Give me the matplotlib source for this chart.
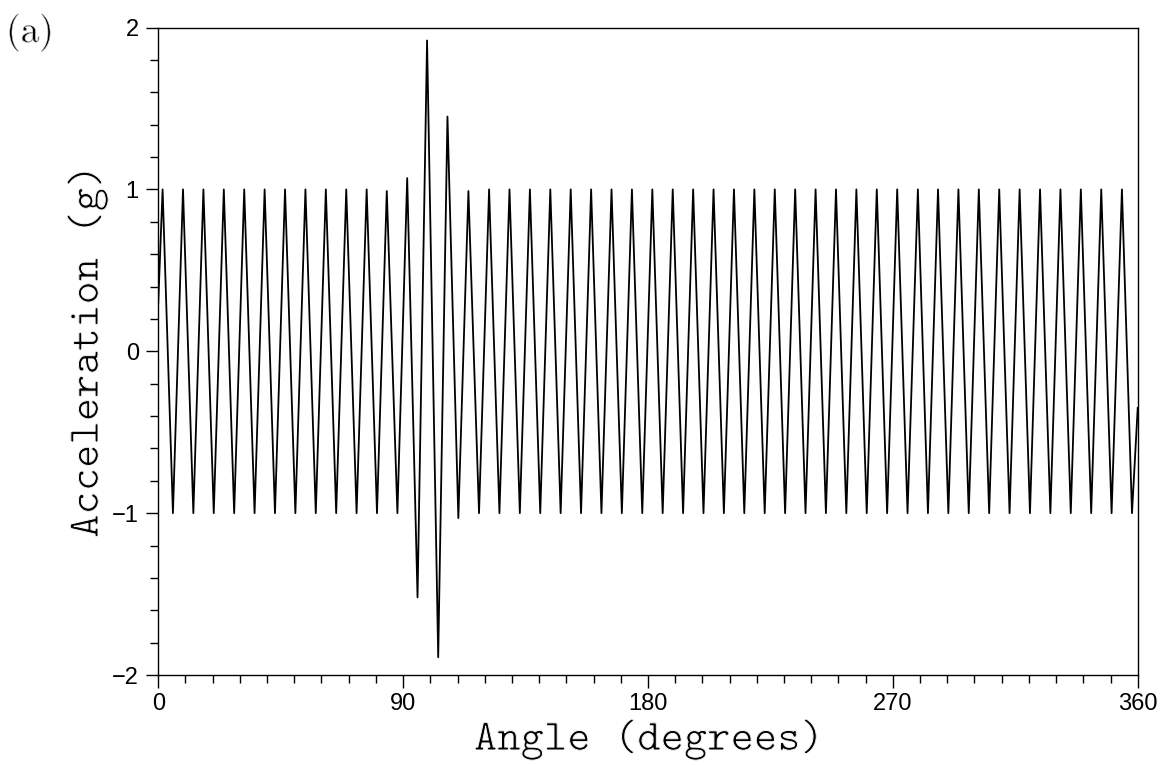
import numpy as np
import matplotlib.pyplot as plt
import matplotlib.patheffects as pe
from matplotlib.ticker import MultipleLocator

# 波峰位置与数值 (degrees, g)
peak_deg = [1.6, 9.1, 16.6, 24.1, 31.6, 39.1, 46.6, 54.1, 61.6, 69.1, 76.6, 84.0,
            91.5, 98.8, 106.3, 114.0, 121.6, 129.1, 136.6, 144.1, 151.6, 159.1, 166.6, 174.1,
            181.6, 189.1, 196.6, 204.1, 211.6, 219.1, 226.6, 234.1, 241.6, 249.1, 256.6, 264.1,
            271.6, 279.2, 286.6, 294.1, 301.6, 309.1, 316.6, 324.1, 331.6, 339.1, 346.6, 354.2]
peak_val = [1.0, 1.0, 1.0, 1.0, 1.0, 1.0, 1.0, 1.0, 1.0, 1.0, 1.0, 0.99,
            1.07, 1.92, 1.45, 0.99, 1.0, 1.0, 1.0, 1.0, 1.0, 1.0, 1.0, 1.0,
            1.0, 1.0, 1.0, 1.0, 1.0, 1.0, 1.0, 1.0, 1.0, 1.0, 1.0, 1.0,
            1.0, 1.0, 1.0, 1.0, 1.0, 1.0, 1.0, 1.0, 1.0, 1.0, 1.0, 1.0]

# 波谷位置与数值
trough_deg = [5.4, 12.9, 20.4, 27.9, 35.4, 42.9, 50.4, 57.9, 65.4, 72.9, 80.4, 87.9,
              95.3, 102.9, 110.3, 117.9, 125.4, 132.9, 140.4, 147.9, 155.4, 162.9, 170.4, 177.9,
              185.4, 192.9, 200.4, 207.9, 215.4, 222.9, 230.4, 237.9, 245.4, 252.9, 260.4, 267.9,
              275.4, 282.9, 290.4, 297.9, 305.4, 312.9, 320.4, 327.9, 335.4, 342.9, 350.4, 357.9]
trough_val = [-1.0, -1.0, -1.0, -1.0, -1.0, -1.0, -1.0, -1.0, -1.0, -1.0, -1.0, -1.0,
              -1.52, -1.89, -1.03, -1.0, -1.0, -1.0, -1.0, -1.0, -1.0, -1.0, -1.0, -1.0,
              -1.0, -1.0, -1.0, -1.0, -1.0, -1.0, -1.0, -1.0, -1.0, -1.0, -1.0, -1.0,
              -1.0, -1.0, -1.0, -1.0, -1.0, -1.0, -1.0, -1.0, -1.0, -1.0, -1.0, -1.0]

# 曲线两端的值
start_deg, start_val = 0.0, 0.3
end_deg, end_val = 360.0, -0.35

x_ticks = [0, 90, 180, 270, 360]
x_ticklabels = ['0', '90', '180', '270', '360']
y_ticks = [-2, -1, 0, 1, 2]
y_ticklabels = ['\u22122', '\u22121', '0', '1', '2']

# 合并并排序
deg = np.array([start_deg] + peak_deg + trough_deg + [end_deg])
val = np.array([start_val] + peak_val + trough_val + [end_val])
order = np.argsort(deg)
deg, val = deg[order], val[order]

fig = plt.figure(figsize=(11.67, 7.65), dpi=100)
ax = fig.add_axes([0.1356, 0.1176, 0.8393, 0.8464])

ax.plot(deg, val, color='black', linewidth=1.3, solid_joinstyle='round')

ax.set_xlim(0, 360)
ax.set_ylim(-2, 2)
ax.set_xticks(x_ticks)
ax.set_xticklabels(x_ticklabels)
ax.set_yticks(y_ticks)
ax.set_yticklabels(y_ticklabels)
ax.xaxis.set_minor_locator(MultipleLocator(10))
ax.yaxis.set_minor_locator(MultipleLocator(0.2))

ax.tick_params(which='both', direction='out', top=False, right=False, width=1.0, color='black')
ax.tick_params(which='major', length=9)
ax.tick_params(which='minor', length=5.5)
ax.tick_params(axis='x', which='major', pad=4)
ax.tick_params(axis='y', which='major', pad=5)
for lab in ax.get_xticklabels() + ax.get_yticklabels():
    lab.set_family(['Liberation Sans', 'DejaVu Sans'])
    lab.set_fontsize(17)

for sp in ax.spines.values():
    sp.set_linewidth(1.0)

# 字体笔画变细：先画字，再用白色描边盖住边缘
thin = [pe.Normal(), pe.Stroke(linewidth=0.7, foreground='white')]

fig.text(649 / 1167, 1 - 750 / 765, 'Angle (degrees)', family='cmtt10', fontsize=32,
         ha='center', va='baseline', path_effects=thin)
fig.text(98 / 1167, 1 - 351 / 765, 'Acceleration (g)', family='cmtt10', fontsize=32,
         rotation=90, rotation_mode='anchor', ha='center', va='baseline', path_effects=thin)
fig.text(6 / 1167, 1 - 42 / 765, '(a)', family='cmr10', fontsize=27, va='baseline',
         path_effects=[pe.Normal(), pe.Stroke(linewidth=0.4, foreground='white')])

fig.savefig('out.png', dpi=100)
